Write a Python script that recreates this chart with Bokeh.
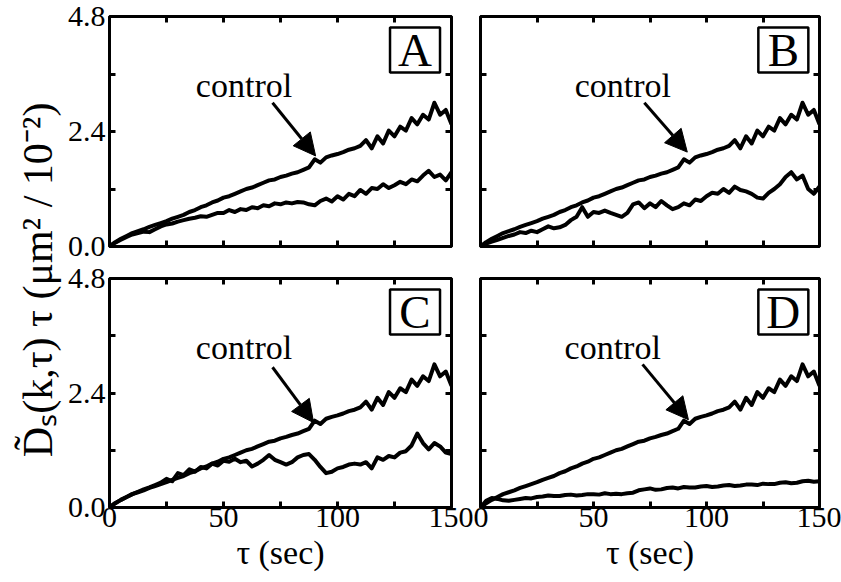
from bokeh.plotting import figure
from bokeh.models import Range1d, LinearAxis, FixedTicker, PrintfTickFormatter, Arrow, NormalHead, Label
from bokeh.layouts import row, column
from bokeh.embed import file_html
from bokeh.resources import INLINE
from bokeh.core.properties import value

# ---------------- data ----------------
tau = [0, 2.5, 5, 7.5, 10, 12.5, 15, 17.5, 20, 22.5,
       25, 27.5, 30, 32.5, 35, 37.5, 40, 42.5, 45, 47.5,
       50, 52.5, 55, 57.5, 60, 62.5, 65, 67.5, 70, 72.5,
       75, 77.5, 80, 82.5, 85, 87.5, 90, 92.5, 95, 97.5,
       100, 102.5, 105, 107.5, 110, 112.5, 115, 117.5, 120, 122.5,
       125, 127.5, 130, 132.5, 135, 137.5, 140, 142.5, 145, 147.5,
       150]

control = [0.00, 0.09, 0.16, 0.22, 0.28, 0.32, 0.36, 0.41, 0.45, 0.49,
           0.53, 0.58, 0.62, 0.66, 0.72, 0.76, 0.82, 0.86, 0.92, 0.96,
           1.02, 1.05, 1.10, 1.15, 1.20, 1.23, 1.28, 1.33, 1.38, 1.40,
           1.45, 1.48, 1.52, 1.55, 1.60, 1.65, 1.82, 1.75, 1.86, 1.90,
           1.93, 1.97, 2.02, 2.05, 2.10, 2.22, 2.05, 2.30, 2.15, 2.42,
           2.30, 2.50, 2.42, 2.68, 2.55, 2.75, 2.65, 3.00, 2.75, 2.85,
           2.55]

lower_A = [0.00, 0.08, 0.14, 0.20, 0.25, 0.28, 0.31, 0.30, 0.36, 0.42,
           0.46, 0.48, 0.52, 0.55, 0.58, 0.60, 0.63, 0.62, 0.66, 0.70,
           0.70, 0.76, 0.72, 0.78, 0.76, 0.82, 0.80, 0.86, 0.84, 0.90,
           0.88, 0.92, 0.90, 0.93, 0.92, 0.88, 0.86, 0.95, 1.00, 0.94,
           1.05, 0.98, 1.10, 1.05, 1.18, 1.10, 1.22, 1.20, 1.30, 1.22,
           1.28, 1.35, 1.30, 1.40, 1.36, 1.48, 1.58, 1.45, 1.50, 1.38,
           1.55]

lower_B = [0.00, 0.06, 0.10, 0.14, 0.18, 0.22, 0.25, 0.30, 0.28, 0.33,
           0.30, 0.36, 0.42, 0.38, 0.40, 0.45, 0.55, 0.62, 0.82, 0.62,
           0.72, 0.70, 0.75, 0.70, 0.66, 0.62, 0.70, 0.88, 0.92, 0.80,
           0.90, 0.82, 0.95, 0.86, 0.78, 0.82, 0.90, 0.86, 0.98, 0.95,
           1.05, 1.12, 1.10, 1.20, 1.12, 1.25, 1.18, 1.15, 1.10, 1.02,
           1.00, 1.12, 1.20, 1.30, 1.45, 1.55, 1.40, 1.48, 1.20, 1.10,
           1.25]

lower_C = [0.00, 0.09, 0.16, 0.22, 0.28, 0.33, 0.38, 0.42, 0.47, 0.52,
           0.60, 0.55, 0.72, 0.68, 0.80, 0.75, 0.85, 0.82, 0.92, 0.88,
           0.98, 0.96, 1.02, 0.95, 0.98, 0.86, 0.92, 1.00, 1.10, 1.00,
           0.95, 0.90, 0.95, 1.05, 1.10, 1.12, 1.00, 0.85, 0.72, 0.75,
           0.82, 0.85, 0.90, 0.92, 0.90, 0.95, 0.82, 1.05, 1.00, 1.08,
           1.05, 1.15, 1.18, 1.30, 1.55, 1.35, 1.22, 1.35, 1.28, 1.15,
           1.12]

lower_D = [0.00, 0.14, 0.20, 0.18, 0.15, 0.14, 0.16, 0.18, 0.20, 0.19,
           0.22, 0.23, 0.25, 0.24, 0.24, 0.26, 0.27, 0.25, 0.26, 0.28,
           0.28, 0.27, 0.30, 0.28, 0.29, 0.28, 0.30, 0.31, 0.36, 0.38,
           0.40, 0.37, 0.38, 0.41, 0.42, 0.40, 0.43, 0.42, 0.42, 0.44,
           0.45, 0.43, 0.44, 0.46, 0.47, 0.45, 0.46, 0.48, 0.48, 0.47,
           0.50, 0.49, 0.49, 0.52, 0.53, 0.51, 0.52, 0.55, 0.56, 0.54,
           0.55]

panel_letters = ["A", "B", "C", "D"]
x_ticks = [0, 50, 100, 150]
x_minor_ticks = [25, 75, 125]
y_ticks = [0.0, 2.4, 4.8]
y_minor_ticks = [1.2, 3.6]
x_label = "τ (sec)"
y_label = "D\u0303\u209b(k,\u03c4) \u03c4 (\u03bcm\u00b2 / 10\u207b\u00b2)"
annot_text = "control"

# annotation placement (data units)
text_pos = {"A": (59, 3.36), "B": (63, 3.36), "C": (59, 3.36), "D": (58.5, 3.36)}
arrow_pos = {"A": (71.5, 3.0, 90.4, 1.89), "B": (72.5, 3.0, 91.5, 1.97),
             "C": (71.5, 2.94, 89.5, 1.78), "D": (71.7, 3.0, 92.0, 1.84)}
letter_pos = (134, 4.1)

SERIF = "Liberation Serif"
TICK_FS = "30px"


def style_axis(ax, show_labels, is_y):
    ax.axis_line_color = None
    ax.major_tick_in = 6
    ax.major_tick_out = 0
    ax.minor_tick_in = 6
    ax.minor_tick_out = 0
    ax.major_tick_line_width = 3
    ax.minor_tick_line_width = 3
    ax.major_tick_line_color = "black"
    ax.minor_tick_line_color = "black"
    ax.major_label_text_font = SERIF
    if show_labels:
        ax.major_label_text_color = "black"
        ax.major_label_text_font_size = TICK_FS
        ax.major_label_standoff = 4 if is_y else 0
    else:
        ax.major_label_text_color = None
        ax.major_label_text_font_size = "1px"
        ax.major_label_standoff = 0


def make_panel(letter, lower, width, height, borders, left_labels, bottom_labels):
    bl, br, bt, bb = borders
    p = figure(width=width, height=height,
               x_range=Range1d(0, 150), y_range=Range1d(0, 4.8),
               x_axis_location=None, y_axis_location=None,
               output_backend="svg", toolbar_location=None,
               min_border_left=bl, min_border_right=br,
               min_border_top=bt, min_border_bottom=bb)
    for g in p.grid:
        g.visible = False
    p.outline_line_color = "black"
    p.outline_line_width = 3
    p.background_fill_color = "white"
    p.border_fill_color = "white"

    for loc in ["left", "right", "above", "below"]:
        is_y = loc in ("left", "right")
        if is_y:
            ax = LinearAxis(ticker=FixedTicker(ticks=y_ticks, minor_ticks=y_minor_ticks),
                            formatter=PrintfTickFormatter(format="%.1f"))
            show = left_labels and loc == "left"
        else:
            ax = LinearAxis(ticker=FixedTicker(ticks=x_ticks, minor_ticks=x_minor_ticks))
            show = bottom_labels and loc == "below"
        style_axis(ax, show, is_y)
        if loc == "below" and bottom_labels:
            ax.axis_label = x_label
            ax.axis_label_text_font = SERIF
            ax.axis_label_text_font_size = "34px"
            ax.axis_label_text_font_style = "normal"
            ax.axis_label_text_color = "black"
            ax.axis_label_standoff = 4
        p.add_layout(ax, loc)

    p.line(tau, control, line_width=4, line_color="black", line_join="round")
    p.line(tau, lower, line_width=4, line_color="black", line_join="round")

    tx, ty = text_pos[letter]
    p.add_layout(Label(x=tx, y=ty, text=annot_text, text_align="center",
                       text_baseline="alphabetic", text_font=SERIF,
                       text_font_size="34px", text_color="black"))
    xs, ys, xe, ye = arrow_pos[letter]
    p.add_layout(Arrow(end=NormalHead(size=22, fill_color="black", line_color="black"),
                       x_start=xs, y_start=ys, x_end=xe, y_end=ye,
                       line_width=3, line_color="black"))

    lx, ly = letter_pos
    p.rect(x=[lx], y=[ly], width=50, height=45, width_units="screen", height_units="screen",
           fill_color="white", line_color="black", line_width=2.5)
    p.text(x=[lx], y=[ly], text=[letter], text_align="center", text_baseline="middle",
           text_font=value(SERIF), text_font_size=value("47px"), text_color="black")
    return p


pA = make_panel("A", lower_A, 411, 262, (47, 22, 16, 16), True, False)
pB = make_panel("B", lower_B, 368, 262, (7, 22, 16, 16), False, False)
pC = make_panel("C", lower_C, 411, 320, (47, 22, 16, 75), True, True)
pD = make_panel("D", lower_D, 368, 320, (7, 22, 16, 75), False, True)

ylab = figure(width=62, height=582, x_range=Range1d(0, 1), y_range=Range1d(0, 1),
              x_axis_location=None, y_axis_location=None,
              output_backend="svg", toolbar_location=None, min_border=0)
for g in ylab.grid:
    g.visible = False
ylab.outline_line_color = None
ylab.add_layout(Label(x=0.6, y=0.52, text=y_label, angle=90, angle_units="deg",
                      text_align="center", text_baseline="middle",
                      text_font=SERIF, text_font_size="42px", text_color="black"))

layout = row(ylab, column(row(pA, pB), row(pC, pD)))

open("out.html", "w").write(file_html(layout, INLINE))
